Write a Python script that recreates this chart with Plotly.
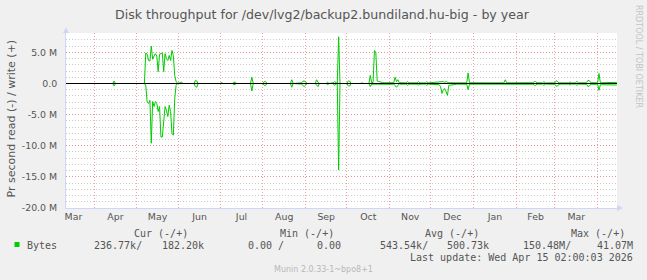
import plotly.graph_objects as go

# ---------------- data (MB/s, daily samples) ----------------
dates_a = ["2025-04-14", "2025-04-15", "2025-04-16", "2025-05-07"]
write_a = [0, 0.4, 0, 0]
read_a = [0, 0.4, 0, 0]

dates_may = ["2025-05-08", "2025-05-09", "2025-05-10", "2025-05-11", "2025-05-12", "2025-05-13",
             "2025-05-14", "2025-05-15", "2025-05-16", "2025-05-17", "2025-05-18", "2025-05-19",
             "2025-05-20", "2025-05-21", "2025-05-22", "2025-05-23", "2025-05-24", "2025-05-25",
             "2025-05-26", "2025-05-27", "2025-05-28", "2025-05-29", "2025-05-30", "2025-05-31"]
write_may = [4.9, 4.7, 3.7, 3.6, 6.0, 3.9, 4.4, 4.8, 4.4, 1.9, 4.7, 4.8,
             4.9, 1.9, 4.8, 4.0, 3.7, 4.5, 3.7, 5.3, 4.5, 1.3, 0.3, 0.1]
read_may = [0.3, 3.0, 3.2, 2.7, 9.6, 2.9, 3.7, 2.9, 3.2, 4.5, 3.7, 8.6,
            8.6, 5.9, 3.7, 4.3, 5.3, 3.5, 4.5, 8.0, 8.3, 2.5, 0.3, 0.0]

dates_jun = ["2025-06-01", "2025-06-03", "2025-06-04", "2025-06-12", "2025-06-13", "2025-06-14", "2025-06-15"]
write_jun = [0.05, 0.2, 0, 0, 0.5, 0.4, 0]
read_jun = [0, 0, 0, 0, 0.5, 0.6, 0]

dates_jul = ["2025-07-01", "2025-07-02", "2025-07-03", "2025-07-10", "2025-07-11", "2025-07-12",
             "2025-07-13", "2025-07-23", "2025-07-24", "2025-07-25"]
write_jul = [0, 0.15, 0, 0, 0.2, 0.2, 0, 0, 1.0, 0]
read_jul = [0, 0.05, 0, 0, 0.2, 0.15, 0, 0, 1.2, 0]

dates_aug = ["2025-08-01", "2025-08-02", "2025-08-03", "2025-08-04", "2025-08-21", "2025-08-22",
             "2025-08-23", "2025-08-29", "2025-08-30", "2025-08-31"]
write_aug = [0, 0.3, 0.3, 0, 0, 0.6, 0, 0.1, 0.35, 0.4]
read_aug = [0, 0.3, 0.3, 0, 0, 0.6, 0, 0.1, 0.3, 0.5]

dates_sep = ["2025-09-01", "2025-09-02", "2025-09-08", "2025-09-09", "2025-09-10", "2025-09-11",
             "2025-09-16", "2025-09-17", "2025-09-18", "2025-09-21", "2025-09-22", "2025-09-23",
             "2025-09-24", "2025-09-25", "2025-09-26"]
write_sep = [0.3, 0, 0, 0.6, 0.2, 0, 0, 0.2, 0, 0.1, 0.3, 0.1, 0, 7.5, 0]
read_sep = [0.3, 0, 0, 0.3, 0.5, 0, 0, 0.2, 0, 0, 0.3, 0.1, 0, 13.9, 0]

dates_oct = ["2025-10-01", "2025-10-02", "2025-10-03", "2025-10-04", "2025-10-11", "2025-10-12",
             "2025-10-13", "2025-10-17", "2025-10-18", "2025-10-19", "2025-10-20", "2025-10-21",
             "2025-10-22", "2025-10-23", "2025-10-27"]
write_oct = [0, 0.4, 0.4, 0, 0, 0.1, 0, 0, 1.3, 0.1, 0.2, 5.3, 5.0, 0.4, 0.12]
read_oct = [0, 0.4, 0.4, 0, 0, 0, 0, 0, 0.5, 0.1, 0.1, 0.1, 0.1, 0.12, 0.1]

dates_nov = ["2025-11-01", "2025-11-04", "2025-11-05", "2025-11-06", "2025-11-07", "2025-11-08",
             "2025-11-13", "2025-11-14", "2025-11-15", "2025-11-21", "2025-11-22", "2025-11-23",
             "2025-11-27", "2025-11-28", "2025-11-29"]
write_nov = [0.1, 0.12, 1.0, 0.3, 0.6, 0.12, 0.1, 0.3, 0.1, 0.1, 0.3, 0.1, 0.1, 0.3, 0.1]
read_nov = [0.12, 0.12, 0.3, 0.6, 0.3, 0.1, 0.1, 0.3, 0.1, 0.1, 0.25, 0.1, 0.1, 0.3, 0.1]

dates_dec = ["2025-12-07", "2025-12-08", "2025-12-09", "2025-12-10", "2025-12-11", "2025-12-12",
             "2025-12-13", "2025-12-14", "2025-12-20", "2025-12-27", "2025-12-28", "2025-12-29"]
write_dec = [0.2, 0.3, 0.25, 0.3, 0.2, 0.3, 0.2, 0.12, 0.1, 0.1, 1.7, 0.12]
read_dec = [0.2, 0.5, 1.6, 1.0, 0.8, 1.3, 1.9, 0.3, 0.1, 0.12, 1.0, 0.1]

dates_janfeb = ["2026-01-10", "2026-01-23", "2026-01-24", "2026-01-25", "2026-02-05", "2026-02-13",
                "2026-02-14", "2026-02-15", "2026-02-16", "2026-02-20", "2026-02-21", "2026-02-22"]
write_janfeb = [0.1, 0.1, 0.6, 0.1, 0.12, 0.12, 0.3, 0.3, 0.12, 0.1, 0.3, 0.1]
read_janfeb = [0.12, 0.1, 0.1, 0.1, 0.12, 0.12, 0.25, 0.3, 0.1, 0.1, 0.3, 0.1]

dates_marapr = ["2026-03-01", "2026-03-02", "2026-03-03", "2026-03-04", "2026-03-11", "2026-03-12",
                "2026-03-13", "2026-03-16", "2026-03-17", "2026-03-18", "2026-03-24", "2026-03-25",
                "2026-03-26", "2026-03-27", "2026-04-01", "2026-04-02", "2026-04-03", "2026-04-15"]
write_marapr = [0.1, 0.45, 0.3, 0.1, 0.1, 0.25, 0.1, 0.1, 0.35, 0.1, 0.12, 0.5,
                0.45, 0.12, 0.12, 1.6, 0.12, 0.18]
read_marapr = [0.12, 0.45, 0.4, 0.1, 0.1, 0.25, 0.1, 0.1, 0.3, 0.1, 0.12, 0.5,
               0.4, 0.12, 0.12, 1.1, 0.2, 0.24]

y_tickvals = [-20e6, -15e6, -10e6, -5e6, 0, 5e6]
y_ticktext = ["-20.0 M", "-15.0 M", "-10.0 M", "-5.0 M", "0.0", "5.0 M"]

x_start, x_end = "2025-03-11 02:00:03", "2026-04-15 02:00:03"

title = "Disk throughput for /dev/lvg2/backup2.bundiland.hu-big - by year"
y_title = "Pr second read (-) / write (+)"
legend_headers = ["Cur (-/+)", "Min (-/+)", "Avg (-/+)", "Max (-/+)"]
legend_name = "Bytes"
legend_values = ["236.77k/", "182.20k", "0.00 /", "0.00", "543.54k/", "500.73k", "150.48M/", "41.07M"]
last_update = "Last update: Wed Apr 15 02:00:03 2026"
watermark = "Munin 2.0.33-1~bpo8+1"
side_text = "RRDTOOL / TOBI OETIKER"

# ---------------- assemble ----------------
groups = [(dates_a, write_a, read_a), (dates_may, write_may, read_may), (dates_jun, write_jun, read_jun),
          (dates_jul, write_jul, read_jul), (dates_aug, write_aug, read_aug), (dates_sep, write_sep, read_sep),
          (dates_oct, write_oct, read_oct), (dates_nov, write_nov, read_nov), (dates_dec, write_dec, read_dec),
          (dates_janfeb, write_janfeb, read_janfeb), (dates_marapr, write_marapr, read_marapr)]
dates, write_b, read_b = [], [], []
for d, w, r in groups:
    assert len(d) == len(w) == len(r)
    dates += d
    write_b += [v * 1e6 for v in w]
    read_b += [-v * 1e6 for v in r]

W, H = 647, 280
L, T = 66, 33
PW, PH = 551, 175
GREEN = "#00cc00"
TXT = "#555555"


def ax(x):
    return (x - L) / PW


def ay(y):
    return 1 - (y - T) / PH


fig = go.Figure()
fig.add_trace(go.Scatter(x=dates, y=read_b, mode="lines", line=dict(color=GREEN, width=1),
                         showlegend=False, hoverinfo="skip"))
fig.add_trace(go.Scatter(x=dates, y=write_b, mode="lines", line=dict(color=GREEN, width=1),
                         showlegend=False, hoverinfo="skip"))

fig.update_layout(
    width=W, height=H,
    margin=dict(l=L, r=W - L - PW, t=T, b=H - T - PH, pad=0),
    paper_bgcolor="#f0f0f0", plot_bgcolor="#ffffff",
    font=dict(family="DejaVu Sans", color=TXT),
    xaxis=dict(type="date", range=[x_start, x_end], tick0="2025-03-01", dtick="M1",
               tickformat="%b", ticklabelmode="period", ticks="", showgrid=True,
               gridcolor="rgba(235,120,120,0.7)", griddash="1px,2px", gridwidth=1,
               showline=True, linecolor="#cfd6f8", linewidth=1, zeroline=False,
               tickfont=dict(size=9.4, color=TXT, family="DejaVu Sans")),
    yaxis=dict(range=[-20e6, 8.11e6], tickmode="array", tickvals=y_tickvals, ticktext=y_ticktext,
               ticks="", showgrid=True, gridcolor="rgba(235,120,120,0.7)", griddash="1px,2px",
               gridwidth=1, zeroline=False, showline=True, linecolor="#cfd6f8", linewidth=1,
               ticklabelstandoff=6,
               tickfont=dict(size=9.4, color=TXT, family="DejaVu Sans"),
               minor=dict(tickmode="linear", tick0=0, dtick=1e6, showgrid=True,
                          gridcolor="rgba(160,160,160,0.55)", griddash="1px,2px", gridwidth=1,
                          ticks="")),
)

# zero rule on top of data
fig.add_shape(type="line", xref="paper", x0=0, x1=1, yref="y", y0=0, y1=0,
              line=dict(color="#000000", width=1), layer="above")

# axis arrows
fig.add_shape(type="path", xref="paper", yref="paper",
              path=f"M {ax(63)} {ay(33)} L {ax(69)} {ay(33)} L {ax(66)} {ay(27)} Z",
              fillcolor="#cfd6f8", line=dict(width=0))
fig.add_shape(type="path", xref="paper", yref="paper",
              path=f"M {ax(617)} {ay(205)} L {ax(617)} {ay(211)} L {ax(623)} {ay(208)} Z",
              fillcolor="#cfd6f8", line=dict(width=0))

# legend swatch
fig.add_shape(type="rect", xref="paper", yref="paper",
              x0=ax(14.5), x1=ax(19.5), y0=ay(247), y1=ay(242),
              fillcolor=GREEN, line=dict(width=0))


def note(text, x, y, xanchor="center", size=10, family="DejaVu Sans Mono", color=TXT, angle=0):
    fig.add_annotation(text=text, x=ax(x), y=ay(y), xref="paper", yref="paper",
                       xanchor=xanchor, yanchor="middle", showarrow=False, borderpad=0,
                       textangle=angle, font=dict(size=size, family=family, color=color))


note(title, 322.5, 14, size=12.6, family="DejaVu Sans")
note(y_title, 11, 118.5, size=11, family="DejaVu Sans", angle=-90)
note(side_text, 638.5, 56.5, size=8, family="DejaVu Sans", color="#c4c4c4", angle=90)

for txt, xr in zip(legend_headers, [189, 335, 480, 626]):
    note(txt, xr, 233, xanchor="right")
note(legend_name, 26.4, 245.5, xanchor="left")
for txt, xr in zip(legend_values, [142.8, 205, 284.8, 342, 429, 490, 571.6, 633.5]):
    note(txt, xr, 245.5, xanchor="right")
note(last_update, 633.5, 257.5, xanchor="right")
note(watermark, 323, 269, size=8, family="DejaVu Sans", color="#b8b8b8")

fig.write_html("out.html")
